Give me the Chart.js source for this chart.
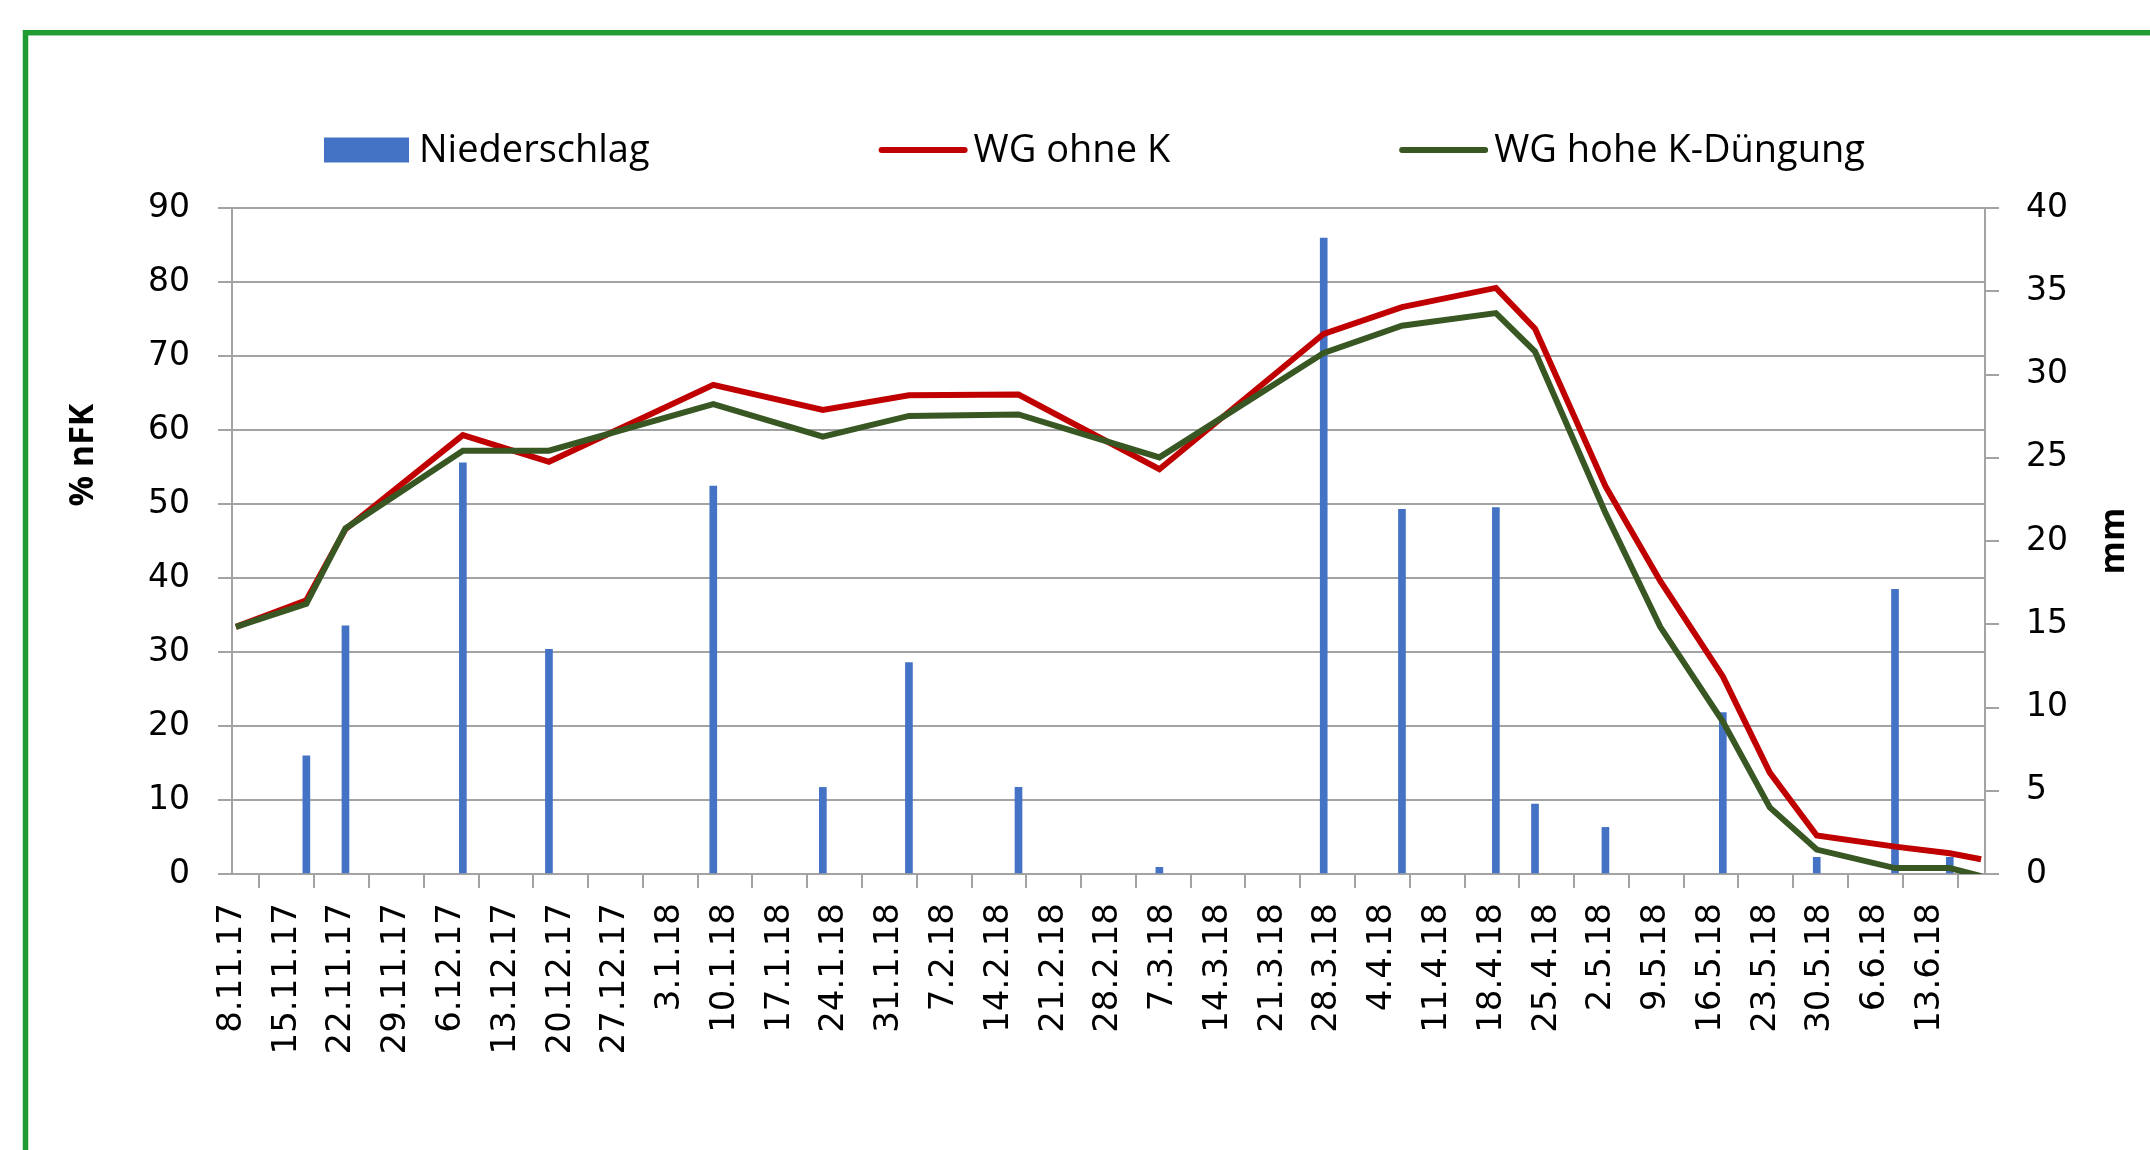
<!DOCTYPE html>
<html>
<head>
<meta charset="utf-8">
<script src="https://cdn.jsdelivr.net/npm/chart.js@4.4.0/dist/chart.umd.min.js"></script>
<style>
  html, body { margin: 0; padding: 0; background: #fff; }
  canvas { display: block; }
</style>
</head>
<body>
<canvas id="myChart" width="2150" height="1150"></canvas>
<script>
const startDate = "8.11.17";
const xTickLabels = [
  "8.11.17", "15.11.17", "22.11.17", "29.11.17", "6.12.17", "13.12.17", "20.12.17", "27.12.17",
  "3.1.18", "10.1.18", "17.1.18", "24.1.18", "31.1.18", "7.2.18", "14.2.18", "21.2.18",
  "28.2.18", "7.3.18", "14.3.18", "21.3.18", "28.3.18", "4.4.18", "11.4.18", "18.4.18",
  "25.4.18", "2.5.18", "9.5.18", "16.5.18", "23.5.18", "30.5.18", "6.6.18", "13.6.18",
];

// Niederschlag (mm, right axis)
const rainDates = [
  "17.11.17", "22.11.17", "7.12.17", "18.12.17", "8.1.18", "22.1.18", "2.2.18", "16.2.18",
  "6.3.18", "27.3.18", "6.4.18", "18.4.18", "23.4.18", "2.5.18", "17.5.18", "29.5.18",
  "8.6.18", "15.6.18",
];
const rainValues = [7.1, 14.9, 24.7, 13.5, 23.3, 5.2, 12.7, 5.2, 0.4, 38.2, 21.9, 22.0, 4.2, 2.8, 9.7, 1.0, 17.1, 1.0];

// % nFK (left axis)
const measureDates = [
  "8.11.17", "17.11.17", "22.11.17", "7.12.17", "18.12.17", "8.1.18", "22.1.18", "2.2.18",
  "16.2.18", "6.3.18", "27.3.18", "6.4.18", "18.4.18", "23.4.18", "2.5.18", "9.5.18",
  "17.5.18", "23.5.18", "29.5.18", "8.6.18", "15.6.18", "19.6.18",
];
const ohneKValues = [33.4, 37.0, 46.6, 59.3, 55.7, 66.1, 62.7, 64.7, 64.8, 54.7, 73.0, 76.6, 79.2, 73.7, 52.4, 39.6, 26.7, 13.7, 5.2, 3.7, 2.8, 2.0];
const hoheKValues = [33.4, 36.5, 46.7, 57.2, 57.2, 63.5, 59.1, 61.9, 62.1, 56.3, 70.4, 74.1, 75.8, 70.6, 48.8, 33.4, 20.6, 9.0, 3.3, 0.8, 0.8, -0.3];

function dayOf(label) {
  const [d, m, y] = label.split(".").map(Number);
  return Date.UTC(2000 + y, m - 1, d) / 86400000;
}
const day0 = dayOf(startDate);
// Excel puts each date in the middle of its day
const toPoints = (dates, values) => dates.map((d, i) => ({ x: dayOf(d) - day0 + 0.5, y: values[i] }));

const gridColor = "#a3a3a3";
const tickFontY = { family: "DejaVu Sans", size: 33 };
const tickFontX = { family: "DejaVu Sans", size: 34 };

const framePlugin = {
  id: "frame",
  beforeDraw(chart) {
    const ctx = chart.ctx;
    ctx.save();
    ctx.fillStyle = "#fff";
    ctx.fillRect(0, 0, chart.width, chart.height);
    ctx.strokeStyle = "#229b32";
    ctx.lineWidth = 5.5;
    ctx.strokeRect(25.5, 32.7, chart.width + 100, chart.height + 100);
    ctx.restore();
  },
};

const legendPlugin = {
  id: "excelLegend",
  afterDraw(chart) {
    const ctx = chart.ctx;
    const y = 150;
    let x = 324;
    ctx.save();
    ctx.font = "38px 'Open Sans'";
    chart.data.datasets.forEach((ds) => {
      if (ds.type === "bar") {
        ctx.fillStyle = ds.backgroundColor;
        ctx.fillRect(x, y - 12.5, 85, 25);
      } else {
        ctx.strokeStyle = ds.borderColor;
        ctx.lineWidth = 6;
        ctx.lineCap = "round";
        ctx.beginPath();
        ctx.moveTo(x + 3, y);
        ctx.lineTo(x + 86, y);
        ctx.stroke();
      }
      ctx.fillStyle = "#000";
      ctx.textBaseline = "alphabetic";
      ctx.fillText(ds.label, x + 95, y + 12);
      x += 95 + ctx.measureText(ds.label).width + 229;
    });
    ctx.restore();
  },
};

const axisTitlePlugin = {
  id: "axisTitles",
  afterDraw(chart) {
    const ctx = chart.ctx;
    const area = chart.chartArea;
    ctx.save();
    ctx.font = "bold 34px 'Open Sans'";
    ctx.fillStyle = "#000";
    ctx.textAlign = "center";
    ctx.textBaseline = "middle";
    ctx.translate(83, area.top + (area.bottom - area.top) * 0.371);
    ctx.rotate(-Math.PI / 2);
    ctx.fillText("% nFK", 0, 0);
    ctx.restore();
    ctx.save();
    ctx.font = "bold 34px 'Open Sans'";
    ctx.fillStyle = "#000";
    ctx.textAlign = "center";
    ctx.textBaseline = "middle";
    ctx.translate(2114, (area.top + area.bottom) / 2);
    ctx.rotate(-Math.PI / 2);
    ctx.fillText("mm", 0, 0);
    ctx.restore();
  },
};

const config = {
  type: "line",
  data: {
    datasets: [
      {
        type: "bar",
        label: "Niederschlag",
        data: toPoints(rainDates, rainValues),
        backgroundColor: "#4472c4",
        barThickness: 7,
        yAxisID: "y2",
        order: 3,
      },
      {
        type: "line",
        label: "WG ohne K",
        data: toPoints(measureDates, ohneKValues),
        borderColor: "#c00000",
        borderWidth: 6,
        pointRadius: 0,
        tension: 0,
        yAxisID: "y",
        order: 2,
      },
      {
        type: "line",
        label: "WG hohe K-Düngung",
        data: toPoints(measureDates, hoheKValues),
        borderColor: "#385723",
        borderWidth: 6,
        pointRadius: 0,
        tension: 0,
        yAxisID: "y",
        order: 1,
      },
    ],
  },
  options: {
    responsive: false,
    animation: false,
    layout: { padding: { top: 208, left: 0, right: 0, bottom: 0 } },
    plugins: {
      legend: { display: false },
      tooltip: { enabled: false },
    },
    scales: {
      x: {
        type: "linear",
        min: 0,
        max: 224,
        offset: false,
        afterFit(scale) { scale.height = 276; },
        ticks: {
          stepSize: 7,
          autoSkip: false,
          minRotation: 90,
          maxRotation: 90,
          padding: 15,
          color: "#000",
          font: tickFontX,
          callback: (value) => xTickLabels[value / 7] ?? "",
        },
        grid: { drawOnChartArea: false, tickLength: 14, color: gridColor, lineWidth: 2 },
        border: { display: true, color: gridColor, width: 2 },
      },
      y: {
        position: "left",
        min: 0,
        max: 90,
        afterFit(scale) { scale.width = 232; },
        ticks: { stepSize: 10, padding: 28, color: "#000", font: tickFontY },
        grid: { color: gridColor, lineWidth: 2, tickLength: 14 },
        border: { display: true, color: gridColor, width: 2 },
      },
      y2: {
        position: "right",
        min: 0,
        max: 40,
        afterFit(scale) { scale.width = 165; },
        ticks: { stepSize: 5, padding: 27, color: "#000", font: tickFontY },
        grid: { drawOnChartArea: false, color: gridColor, lineWidth: 2, tickLength: 14 },
        border: { display: true, color: gridColor, width: 2 },
      },
    },
  },
  plugins: [framePlugin, legendPlugin, axisTitlePlugin],
};

new Chart(document.getElementById("myChart"), config);
</script>
</body>
</html>
